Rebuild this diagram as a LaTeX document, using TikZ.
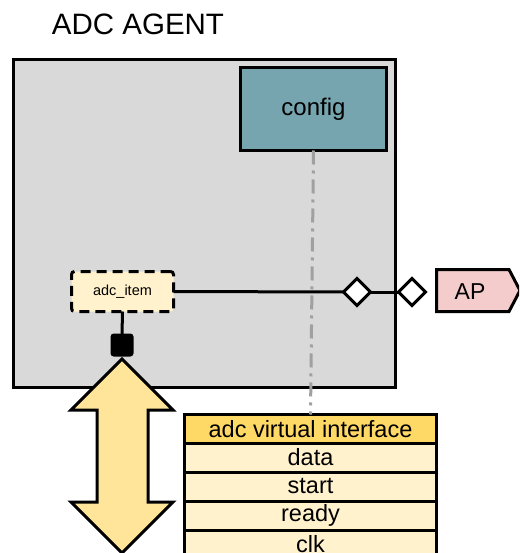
\documentclass[tikz,border=0pt]{standalone}
\usepackage{fontspec}
\setmainfont{Liberation Sans}
\usetikzlibrary{shapes.geometric}

\definecolor{agentgray}{HTML}{D9D9D9}
\definecolor{cfgteal}{HTML}{76A5AF}
\definecolor{itemcream}{HTML}{FFF2CC}
\definecolor{hdryellow}{HTML}{FFD966}
\definecolor{arrowyellow}{HTML}{FFE599}
\definecolor{appink}{HTML}{F4CCCC}
\definecolor{linkgray}{HTML}{A0A0A0}

\tikzset{
  thick line/.style={line width=3pt},
  boxnode/.style={thick line, draw=black, inner sep=0pt, outer sep=0pt},
  portdiamond/.style={boxnode, diamond, aspect=1, fill=white,
    minimum width=27pt, minimum height=27pt},
  ifrow/.style={boxnode, fill=itemcream, minimum width=252pt, minimum height=29pt,
    font=\fontsize{23.5}{25}\selectfont},
}

\begin{document}
\begin{tikzpicture}[x=1pt, y=-1pt]
\useasboundingbox (0,0) rectangle (519,553);
\clip (0,0) rectangle (519,553);

% title
\node[font=\fontsize{29.5}{32}\selectfont] (title) at (138,24) {ADC AGENT};

% agent container
\node[boxnode, fill=agentgray, minimum width=382pt, minimum height=328pt]
  (agent) at (204.5,223.5) {};

% configuration object
\node[boxnode, fill=cfgteal, minimum width=146pt, minimum height=83pt,
  font=\fontsize{24}{26}\selectfont] (config) at (313.5,109) {config};

% interface table
\node[ifrow, fill=hdryellow, minimum height=28.5pt] (hdr) at (310.5,428.75) {adc virtual interface};
\node[ifrow] (data)  at (310.5,457.5) {data};
\node[ifrow] (start) at (310.5,486.5) {start};
\node[ifrow] (ready) at (310.5,515.5) {ready};
\node[ifrow] (clk)   at (310.5,544.5) {clk};

% link from config to the virtual interface
\draw[thick line, draw=linkgray, dash pattern=on 14pt off 6pt on 3pt off 6pt]
  (config.south) -- (hdr.north);

% sequence item
\node[boxnode, fill=itemcream, dash pattern=on 10pt off 6pt, rounded corners=3pt,
  minimum width=102pt, minimum height=40pt, font=\fontsize{14.5}{16}\selectfont]
  (item) at (122.5,291.5) {adc\_item};

% bidirectional arrow
\draw[thick line, fill=arrowyellow, line join=miter]
  (122,359) -- (173,410) -- (148,410) -- (148,502) -- (173,502) -- (122,553)
  -- (71,502) -- (97,502) -- (97,410) -- (71,410) -- cycle;

% port square
\node[boxnode, fill=black, rounded corners=2pt, minimum size=20pt] (sq) at (122,345) {};
\draw[thick line] (item.south) -- (sq.north);

% analysis ports
\node[portdiamond] (d1) at (357,292) {};
\node[portdiamond] (d2) at (412,292) {};
\draw[thick line] (item.east) -- (d1.west);
\draw[thick line] (d1.east) -- (d2.west);

% analysis port tag
\draw[thick line, fill=appink, line join=miter]
  (436.5,269.5) -- (509,269.5) -- (520,290.5) -- (509,311.5) -- (436.5,311.5) -- cycle;
\node[font=\fontsize{23}{25}\selectfont] (ap) at (470,292) {AP};
\end{tikzpicture}
\end{document}
